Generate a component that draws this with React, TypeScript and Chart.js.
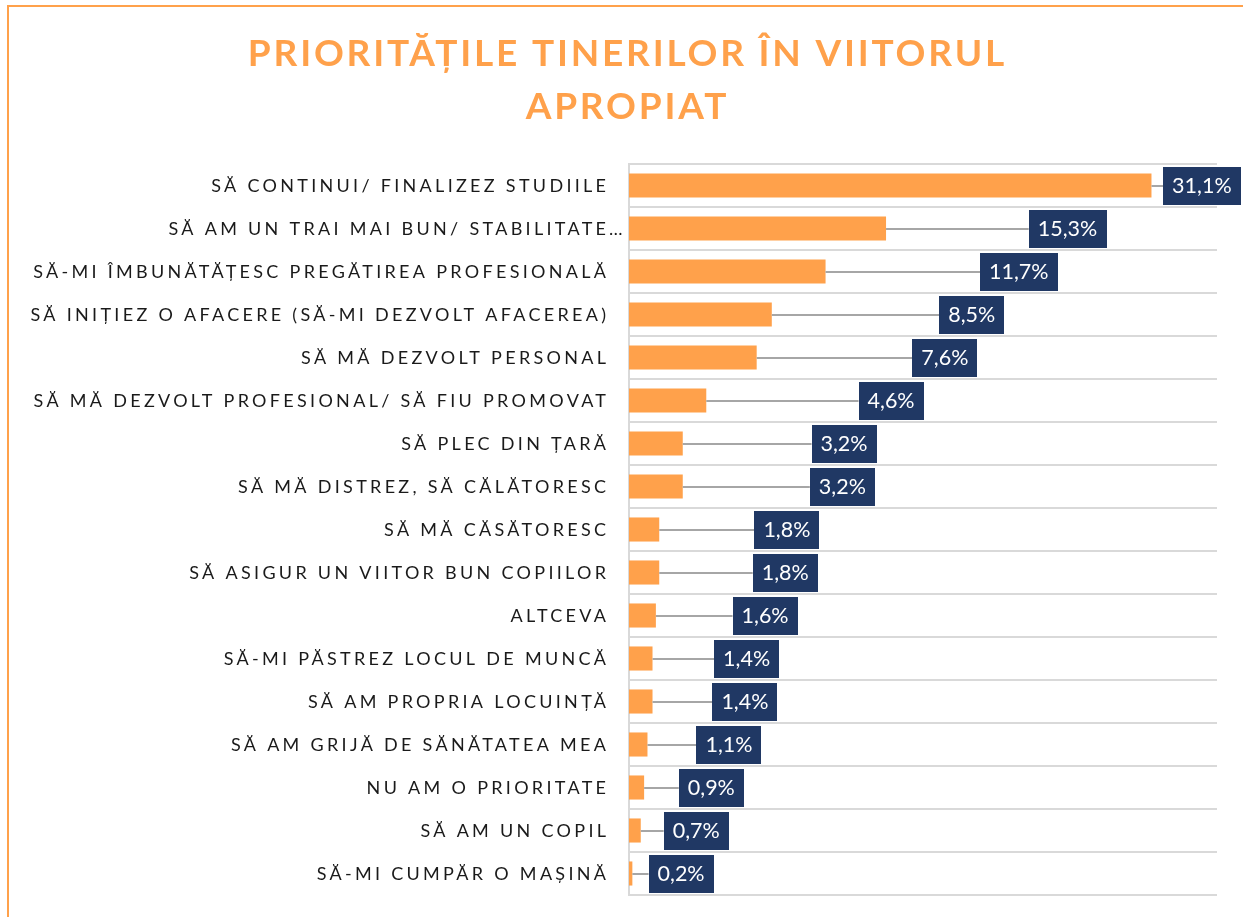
import { useEffect, useRef } from "react";
import { Chart, registerables } from "chart.js";

Chart.register(...registerables);

const TITLE_LINES = ["PRIORITĂȚILE TINERILOR ÎN VIITORUL", "APROPIAT"];

const CATEGORIES = [
  "SĂ CONTINUI/ FINALIZEZ STUDIILE",
  "SĂ AM UN TRAI MAI BUN/ STABILITATE…",
  "SĂ-MI ÎMBUNĂTĂȚESC PREGĂTIREA PROFESIONALĂ",
  "SĂ INIȚIEZ O AFACERE (SĂ-MI DEZVOLT AFACEREA)",
  "SĂ MĂ DEZVOLT PERSONAL",
  "SĂ MĂ DEZVOLT PROFESIONAL/ SĂ FIU PROMOVAT",
  "SĂ PLEC DIN ȚARĂ",
  "SĂ MĂ DISTREZ, SĂ CĂLĂTORESC",
  "SĂ MĂ CĂSĂTORESC",
  "SĂ ASIGUR UN VIITOR BUN COPIILOR",
  "ALTCEVA",
  "SĂ-MI PĂSTREZ LOCUL DE MUNCĂ",
  "SĂ AM PROPRIA LOCUINȚĂ",
  "SĂ AM GRIJĂ DE SĂNĂTATEA MEA",
  "NU AM O PRIORITATE",
  "SĂ AM UN COPIL",
  "SĂ-MI CUMPĂR O MAȘINĂ",
];

const VALUES = [31.1, 15.3, 11.7, 8.5, 7.6, 4.6, 3.2, 3.2, 1.8, 1.8, 1.6, 1.4, 1.4, 1.1, 0.9, 0.7, 0.2];

// where each (manually placed) data label box is centred, in axis units
const LABEL_ANCHORS = [34.1, 26.1, 23.2, 20.4, 18.8, 15.6, 12.8, 12.7, 9.4, 9.3, 8.1, 7.0, 6.9, 5.95, 4.9, 4.0, 3.1];

const X_MAX = 35;

const ORANGE = "#FFA14B";
const NAVY = "#203864";
const GRID = "#D9D9D9";
const LEADER = "#A6A6A6";

const fmt = (v: number) => v.toFixed(1).replace(".", ",") + "%";

const decorPlugin = {
  id: "decor",
  beforeDraw(chart: any) {
    const ctx = chart.ctx as CanvasRenderingContext2D;
    ctx.save();
    ctx.fillStyle = ORANGE;
    ctx.fillRect(7, 5, 2, chart.height - 5);
    ctx.fillRect(7, 5, chart.width - 7, 2);
    // title
    ctx.fillStyle = ORANGE;
    ctx.font = "bold 37px Lato";
    (ctx as any).letterSpacing = "2.8px";
    ctx.textAlign = "center";
    ctx.textBaseline = "alphabetic";
    ctx.fillText(TITLE_LINES[0], 626 + 1.4, 66);
    ctx.fillText(TITLE_LINES[1], 626 + 1.4, 119);
    ctx.restore();
  },
  afterDraw(chart: any) {
    const ctx = chart.ctx as CanvasRenderingContext2D;
    const yScale = chart.scales.y;
    const xScale = chart.scales.x;
    const meta = chart.getDatasetMeta(0);
    // category labels
    ctx.save();
    ctx.fillStyle = "#1a1a1a";
    ctx.font = "18px Lato";
    const sp = 3.3;
    (ctx as any).letterSpacing = sp + "px";
    ctx.textBaseline = "alphabetic";
    ctx.textAlign = "right";
    const rightX = xScale.left - 23;
    CATEGORIES.forEach((c, i) => {
      const y = yScale.getPixelForValue(i) + 6.5;
      if (c.endsWith("…")) {
        const main = c.slice(0, -1);
        ctx.textAlign = "right";
        ctx.fillText(main, rightX + sp, y);
        ctx.textAlign = "left";
        (ctx as any).letterSpacing = "0px";
        ctx.fillText("…", rightX + 3, y);
        (ctx as any).letterSpacing = sp + "px";
        ctx.textAlign = "right";
      } else {
        ctx.fillText(c, rightX + sp, y);
      }
    });
    ctx.restore();

    // leader lines and data labels
    ctx.save();
    ctx.font = "21.5px Lato";
    (ctx as any).letterSpacing = "0px";
    meta.data.forEach((bar: any, i: number) => {
      const text = fmt(VALUES[i]);
      const tw = ctx.measureText(text).width;
      const bw = tw + 18;
      const bh = 38;
      const cx = xScale.getPixelForValue(LABEL_ANCHORS[i]);
      const cy = bar.y;
      const left = cx - bw / 2;
      ctx.strokeStyle = LEADER;
      ctx.lineWidth = 2;
      ctx.beginPath();
      ctx.moveTo(bar.x, Math.round(cy));
      ctx.lineTo(left, Math.round(cy));
      ctx.stroke();
      ctx.fillStyle = NAVY;
      ctx.fillRect(Math.round(left), Math.round(cy - bh / 2), Math.round(bw), bh);
      ctx.fillStyle = "#FFFFFF";
      ctx.textAlign = "center";
      ctx.textBaseline = "alphabetic";
      ctx.fillText(text, cx, cy + 7.5);
    });
    ctx.restore();
  },
};

export default function App() {
  const ref = useRef<HTMLCanvasElement | null>(null);
  useEffect(() => {
    if (!ref.current) return;
    const chart = new Chart(ref.current, {
      type: "bar",
      data: {
        labels: CATEGORIES,
        datasets: [
          {
            data: VALUES,
            backgroundColor: ORANGE,
            borderWidth: 0,
            barPercentage: 0.56,
            categoryPercentage: 1,
          },
        ],
      },
      options: {
        indexAxis: "y",
        animation: false,
        responsive: false,
        maintainAspectRatio: false,
        layout: { padding: { left: 0, right: 26, top: 164, bottom: 22 } },
        plugins: {
          legend: { display: false },
          title: { display: false },
          tooltip: { enabled: false },
        },
        scales: {
          x: {
            min: 0,
            max: X_MAX,
            display: false,
          },
          y: {
            afterFit: (s: any) => {
              s.width = 629;
            },
            ticks: { display: false },
            grid: {
              offset: true,
              color: GRID,
              lineWidth: 2,
              drawTicks: false,
              tickLength: 0,
            },
            border: { display: true, color: GRID, width: 2 },
          },
        },
      },
      plugins: [decorPlugin],
    });
    return () => chart.destroy();
  }, []);
  return (
    <div style={{ position: "absolute", left: 0, top: 0, width: 1243, height: 917, background: "#fff" }}>
      <canvas ref={ref} width={1243} height={917} style={{ display: "block" }} />
    </div>
  );
}
